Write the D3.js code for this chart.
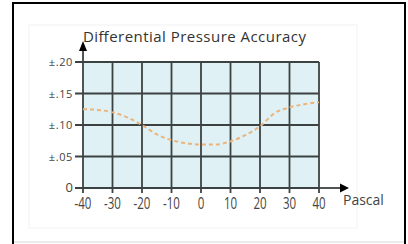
<!DOCTYPE html>
<html>
<head>
<meta charset="utf-8">
<script src="https://cdn.jsdelivr.net/npm/d3@7"></script>
<style>
  body { margin: 0; background: #fff; }
  svg { display: block; }
</style>
</head>
<body>
<svg id="chart"></svg>
<script>
// pascal values and the accuracy (±)
const pascal = [-40, -35, -30, -25, -20, -15, -10, -5, 0, 5, 10, 15, 20, 25, 30, 35, 40];
const accuracy = [0.125, 0.124, 0.120, 0.112, 0.100, 0.085, 0.076, 0.071, 0.069, 0.069, 0.074, 0.084, 0.098, 0.119, 0.128, 0.133, 0.136];

const xTicks = [-40, -30, -20, -10, 0, 10, 20, 30, 40];
const yTicks = [0, 0.05, 0.10, 0.15, 0.20];
const yTickLabels = ['0', '\u00b1.05', '\u00b1.10', '\u00b1.15', '\u00b1.20'];

const W = 408, H = 244;
const margin = { top: 62, left: 83, right: 89, bottom: 56 };
const width = W - margin.left - margin.right;
const height = H - margin.top - margin.bottom;

const svg = d3.select('#chart')
  .attr('width', W)
  .attr('height', H);

// frame around the picture
svg.append('rect')
  .attr('x', 29).attr('y', 25).attr('width', 328).attr('height', 203)
  .attr('fill', 'none').attr('stroke', '#f2f2f2');
svg.append('line')
  .attr('x1', 14).attr('x2', 404).attr('y1', 242).attr('y2', 242)
  .attr('stroke', '#d8d8d8');
svg.append('rect')
  .attr('x', 13).attr('y', 3).attr('width', 392).attr('height', 260)
  .attr('fill', 'none').attr('stroke', '#000').attr('stroke-width', 2);

const x = d3.scaleLinear().domain([-40, 40]).range([0, width]);
const y = d3.scaleLinear().domain([0, 0.2]).range([height, 0]);

const chart = svg.append('g')
  .attr('transform', `translate(${margin.left}, ${margin.top})`);

chart.append('rect')
  .attr('width', width).attr('height', height)
  .attr('fill', '#dff1f4');

// grid
const gridColor = '#3c4242';
chart.selectAll('.vgrid')
  .data(xTicks)
  .enter().append('line')
  .attr('x1', d => x(d)).attr('x2', d => x(d))
  .attr('y1', 0).attr('y2', height + 5)
  .attr('stroke', gridColor).attr('stroke-width', 1.8);

chart.selectAll('.hgrid')
  .data(yTicks)
  .enter().append('line')
  .attr('x1', -8).attr('x2', width)
  .attr('y1', d => y(d)).attr('y2', d => y(d))
  .attr('stroke', gridColor).attr('stroke-width', 1.8);

// curve
const line = d3.line()
  .x((d, i) => x(pascal[i]))
  .y(d => y(d))
  .curve(d3.curveMonotoneX);

chart.append('path')
  .datum(accuracy)
  .attr('d', line)
  .attr('fill', 'none')
  .attr('stroke', '#ebb47c')
  .attr('stroke-width', 2)
  .attr('stroke-dasharray', '4,3');

// axes with arrows
chart.append('line')
  .attr('x1', width).attr('x2', width + 22)
  .attr('y1', height).attr('y2', height)
  .attr('stroke', gridColor).attr('stroke-width', 1.8);
chart.append('path')
  .attr('d', `M${width + 30},${height} L${width + 21},${height - 4.5} L${width + 21},${height + 4.5} Z`)
  .attr('fill', '#000');

chart.append('line')
  .attr('x1', 0).attr('x2', 0)
  .attr('y1', 0).attr('y2', -12)
  .attr('stroke', gridColor).attr('stroke-width', 1.8);
chart.append('path')
  .attr('d', `M0,-21 L-4,-11 L4,-11 Z`)
  .attr('fill', '#000');

// tick labels
chart.selectAll('.xlab')
  .data(xTicks)
  .enter().append('g')
  .attr('transform', d => `translate(${x(d)}, ${height + 21})`)
  .append('text')
  .attr('transform', 'scale(0.72,1)')
  .attr('text-anchor', 'middle')
  .attr('font-family', '"Open Sans", sans-serif')
  .attr('font-size', 16)
  .attr('fill', '#444')
  .text(d => d);

chart.selectAll('.ylab')
  .data(yTicks)
  .enter().append('text')
  .attr('x', -10)
  .attr('y', d => y(d) + 4)
  .attr('text-anchor', 'end')
  .attr('font-family', '"Open Sans", sans-serif')
  .attr('font-size', d => d === 0 ? 13 : 11)
  .attr('letter-spacing', d => d === 0 ? 0 : 0.6)
  .attr('fill', '#444')
  .text((d, i) => yTickLabels[i]);

chart.append('text')
  .attr('x', 0)
  .attr('y', -20)
  .attr('font-family', '"Open Sans", sans-serif')
  .attr('font-size', 15)
  .attr('textLength', 223)
  .attr('fill', '#333')
  .text('Differential Pressure Accuracy');

chart.append('text')
  .attr('x', width + 24)
  .attr('y', height + 17)
  .attr('font-family', '"Open Sans", sans-serif')
  .attr('font-size', 14)
  .attr('fill', '#444')
  .text('Pascal');
</script>
</body>
</html>
